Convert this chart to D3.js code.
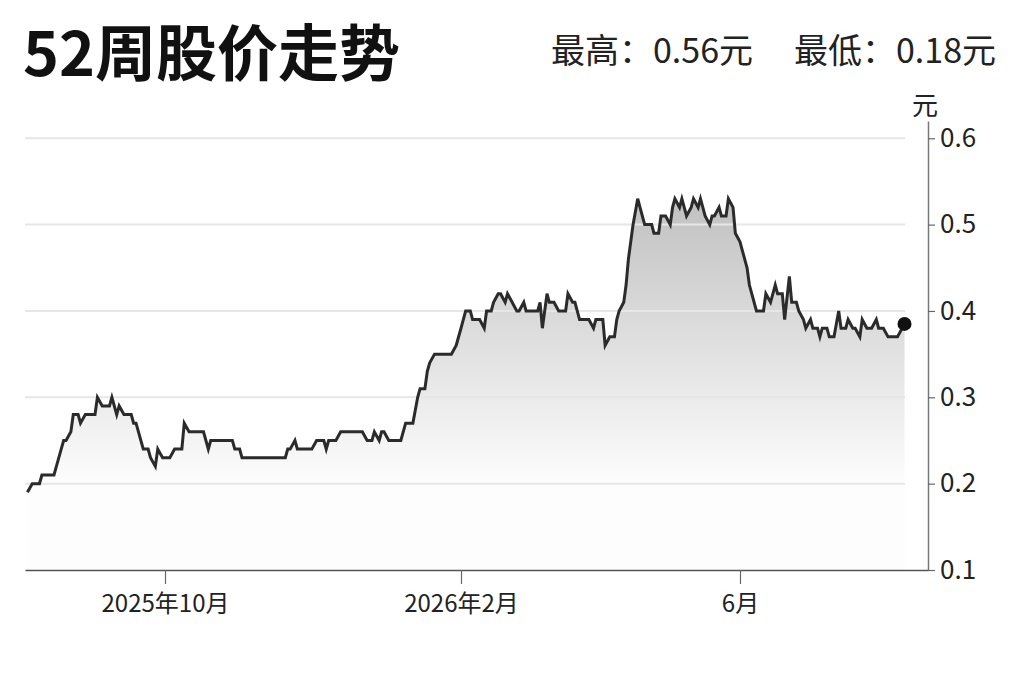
<!DOCTYPE html>
<html>
<head>
<meta charset="utf-8">
<script src="https://cdn.jsdelivr.net/npm/d3@7"></script>
<style>
  body { margin: 0; background: #fff; }
  svg { display: block; font-family: "Noto Sans CJK SC", "Noto Sans", sans-serif; }
</style>
</head>
<body>
<div id="chart"></div>
<script>
// 日期与收盘价
const dates = [
  "2025-08-05","2025-08-07","2025-08-10","2025-08-11","2025-08-16","2025-08-17","2025-08-19","2025-08-20",
  "2025-08-21","2025-08-23","2025-08-24","2025-08-26","2025-08-27","2025-08-29",
  "2025-09-02","2025-09-03","2025-09-05","2025-09-08","2025-09-09","2025-09-11","2025-09-12","2025-09-14",
  "2025-09-17","2025-09-18","2025-09-19","2025-09-21","2025-09-22","2025-09-24","2025-09-25","2025-09-27",
  "2025-09-28","2025-09-30",
  "2025-10-03","2025-10-05","2025-10-08","2025-10-09","2025-10-11","2025-10-17","2025-10-19","2025-10-20",
  "2025-10-29","2025-10-30",
  "2025-11-01","2025-11-02","2025-11-20","2025-11-21","2025-11-22","2025-11-24","2025-11-25",
  "2025-12-01","2025-12-03","2025-12-06","2025-12-07","2025-12-08","2025-12-11","2025-12-13","2025-12-22",
  "2025-12-24","2025-12-26","2025-12-27","2025-12-29","2025-12-30","2025-12-31",
  "2026-01-02","2026-01-07","2026-01-09","2026-01-12","2026-01-14","2026-01-15","2026-01-17","2026-01-18",
  "2026-01-19","2026-01-21","2026-01-28","2026-01-30",
  "2026-02-01","2026-02-03","2026-02-05","2026-02-06","2026-02-09","2026-02-11","2026-02-12","2026-02-14",
  "2026-02-15","2026-02-17","2026-02-18","2026-02-20","2026-02-21","2026-02-23","2026-02-25","2026-02-26",
  "2026-02-28",
  "2026-03-01","2026-03-06","2026-03-07","2026-03-08","2026-03-10","2026-03-11","2026-03-13","2026-03-15",
  "2026-03-18","2026-03-19","2026-03-21","2026-03-22","2026-03-24","2026-03-28","2026-03-30","2026-03-31",
  "2026-04-03","2026-04-04","2026-04-06","2026-04-08","2026-04-09","2026-04-10","2026-04-12","2026-04-13",
  "2026-04-14","2026-04-16","2026-04-18","2026-04-19","2026-04-21","2026-04-24","2026-04-25","2026-04-27",
  "2026-04-28","2026-04-30",
  "2026-05-02","2026-05-03","2026-05-04","2026-05-06","2026-05-07","2026-05-09","2026-05-11","2026-05-12",
  "2026-05-14","2026-05-15","2026-05-17","2026-05-19","2026-05-20","2026-05-21","2026-05-23","2026-05-24",
  "2026-05-26","2026-05-27","2026-05-29","2026-05-30",
  "2026-06-01","2026-06-02","2026-06-04","2026-06-05","2026-06-06","2026-06-08","2026-06-11","2026-06-12",
  "2026-06-14","2026-06-16","2026-06-17","2026-06-19","2026-06-20","2026-06-22","2026-06-23","2026-06-25",
  "2026-06-26","2026-06-28","2026-06-29",
  "2026-07-01","2026-07-02","2026-07-04","2026-07-05","2026-07-06","2026-07-08","2026-07-09","2026-07-11",
  "2026-07-13","2026-07-14","2026-07-16","2026-07-17","2026-07-19","2026-07-20","2026-07-22","2026-07-23",
  "2026-07-25","2026-07-27","2026-07-29","2026-07-30",
  "2026-08-01","2026-08-03","2026-08-07","2026-08-10"
];

const prices = [
  0.19,0.20,0.20,0.21,0.21,0.22,0.24,0.25,
  0.25,0.26,0.28,0.28,0.27,0.28,
  0.28,0.30,0.29,0.29,0.30,0.28,0.29,0.28,
  0.28,0.27,0.27,0.25,0.24,0.24,0.23,0.22,
  0.24,0.23,
  0.23,0.24,0.24,0.27,0.26,0.26,0.24,0.25,
  0.25,0.24,
  0.24,0.23,0.23,0.24,0.24,0.25,0.24,
  0.24,0.25,0.25,0.24,0.25,0.25,0.26,0.26,
  0.25,0.25,0.26,0.25,0.26,0.26,
  0.25,0.25,0.27,0.27,0.30,0.31,0.31,0.33,
  0.34,0.35,0.35,0.36,
  0.38,0.40,0.40,0.39,0.39,0.38,0.40,0.40,
  0.41,0.42,0.42,0.41,0.42,0.41,0.40,0.40,
  0.41,
  0.40,0.40,0.41,0.38,0.42,0.41,0.41,0.40,
  0.40,0.42,0.41,0.41,0.39,0.39,0.38,0.39,
  0.39,0.36,0.37,0.37,0.39,0.40,0.41,0.43,
  0.46,0.50,0.53,0.52,0.50,0.50,0.49,0.49,
  0.51,0.51,
  0.50,0.52,0.53,0.52,0.53,0.51,0.52,0.53,
  0.52,0.53,0.51,0.50,0.51,0.51,0.52,0.51,
  0.51,0.53,0.52,0.49,
  0.48,0.47,0.45,0.43,0.42,0.40,0.40,0.42,
  0.41,0.43,0.42,0.42,0.39,0.44,0.41,0.41,
  0.40,0.39,0.38,
  0.39,0.38,0.38,0.37,0.38,0.38,0.37,0.37,
  0.40,0.38,0.38,0.39,0.38,0.38,0.37,0.39,
  0.38,0.38,0.39,0.38,
  0.38,0.37,0.37,0.385
];

// 坐标轴刻度
const xTickDates = ["2025-10-01", "2026-02-01", "2026-06-01"];
const xTickLabels = ["2025年10月", "2026年2月", "6月"];
const yTicks = [0.1, 0.2, 0.3, 0.4, 0.5, 0.6];
const gridTicks = [0.2, 0.3, 0.4, 0.5, 0.6];

const title = "52周股价走势";
const highText = "最高：0.56元";
const lowText = "最低：0.18元";
const unit = "元";

const parseDate = d3.timeParse("%Y-%m-%d");
const data = dates.map((d, i) => ({ date: parseDate(d), price: prices[i] }));

const W = 1023, H = 682;
const margin = { top: 121, right: 95, bottom: 112, left: 25 };
const width = W - margin.left - margin.right;
const height = H - margin.top - margin.bottom;

const svg = d3.select("#chart")
  .append("svg")
  .attr("width", W)
  .attr("height", H);

// 标题
svg.append("text")
  .attr("x", 23)
  .attr("y", 76)
  .style("font-size", "61px")
  .style("font-weight", "700")
  .attr("fill", "#111")
  .text(title);

svg.append("text")
  .attr("x", 753)
  .attr("y", 63)
  .attr("text-anchor", "end")
  .style("font-size", "34px")
  .attr("fill", "#222")
  .text(highText);

svg.append("text")
  .attr("x", 996)
  .attr("y", 63)
  .attr("text-anchor", "end")
  .style("font-size", "34px")
  .attr("fill", "#222")
  .text(lowText);

const g = svg.append("g")
  .attr("transform", `translate(${margin.left},${margin.top})`);

// 时间轴（按交易日分段）
const x = d3.scaleTime()
  .domain([parseDate("2025-08-04"), parseDate("2025-10-01"), parseDate("2026-02-01"),
           parseDate("2026-06-01"), parseDate("2026-08-20")])
  .range([0, 140, 436, 715, width]);

const y = d3.scaleLinear()
  .domain([0.1, 0.62])
  .range([height, 0]);

// 渐变填充
const grad = svg.append("defs").append("linearGradient")
  .attr("id", "fillGrad")
  .attr("gradientUnits", "userSpaceOnUse")
  .attr("x1", 0).attr("x2", 0)
  .attr("y1", y(0.54)).attr("y2", y(0.2));
grad.append("stop").attr("offset", "0%").attr("stop-color", "#bfbfbf");
grad.append("stop").attr("offset", "100%").attr("stop-color", "#fdfdfd");

const area = d3.area()
  .x(d => x(d.date))
  .y0(y(0.1))
  .y1(d => y(d.price));

g.append("path")
  .datum(data)
  .attr("d", area)
  .attr("fill", "url(#fillGrad)");

// 网格线
g.selectAll(".grid")
  .data(gridTicks)
  .enter().append("line")
  .attr("class", "grid")
  .attr("x1", 0)
  .attr("x2", width - 23)
  .attr("y1", d => y(d))
  .attr("y2", d => y(d))
  .attr("stroke", "#e6e6e6")
  .attr("stroke-width", 2);

// 折线
const line = d3.line()
  .x(d => x(d.date))
  .y(d => y(d.price));

g.append("path")
  .datum(data)
  .attr("d", line)
  .attr("fill", "none")
  .attr("stroke", "#2b2b2b")
  .attr("stroke-width", 3)
  .attr("stroke-linejoin", "miter");

const last = data[data.length - 1];
g.append("circle")
  .attr("cx", x(last.date))
  .attr("cy", y(last.price))
  .attr("r", 7)
  .attr("fill", "#111");

// X轴
const xAxis = g.append("g")
  .attr("transform", `translate(0,${height})`)
  .call(d3.axisBottom(x)
    .tickValues(xTickDates.map(parseDate))
    .tickFormat((d, i) => xTickLabels[i])
    .tickSize(14)
    .tickSizeOuter(0)
    .tickPadding(11));
xAxis.select(".domain").attr("stroke", "#555").attr("stroke-width", 1.5);
xAxis.selectAll(".tick line").attr("stroke", "#666").attr("stroke-width", 1.2);
xAxis.selectAll(".tick text")
  .style("font-size", "24px")
  .style("font-family", "'Noto Sans CJK SC', sans-serif")
  .attr("fill", "#222");

// Y轴
const yAxis = g.append("g")
  .attr("transform", `translate(${width},0)`)
  .call(d3.axisRight(y)
    .tickValues(yTicks)
    .tickFormat(d3.format(".1f"))
    .tickSize(7)
    .tickSizeOuter(0)
    .tickPadding(5));
yAxis.select(".domain").attr("stroke", "#777").attr("stroke-width", 1.5);
yAxis.selectAll(".tick line").attr("stroke", "#666").attr("stroke-width", 1.2);
yAxis.selectAll(".tick text")
  .style("font-size", "26px")
  .style("font-family", "'Noto Sans CJK SC', sans-serif")
  .attr("fill", "#222");

g.append("text")
  .attr("x", width - 3)
  .attr("y", -6)
  .attr("text-anchor", "middle")
  .style("font-size", "26px")
  .attr("fill", "#222")
  .text(unit);
</script>
</body>
</html>
